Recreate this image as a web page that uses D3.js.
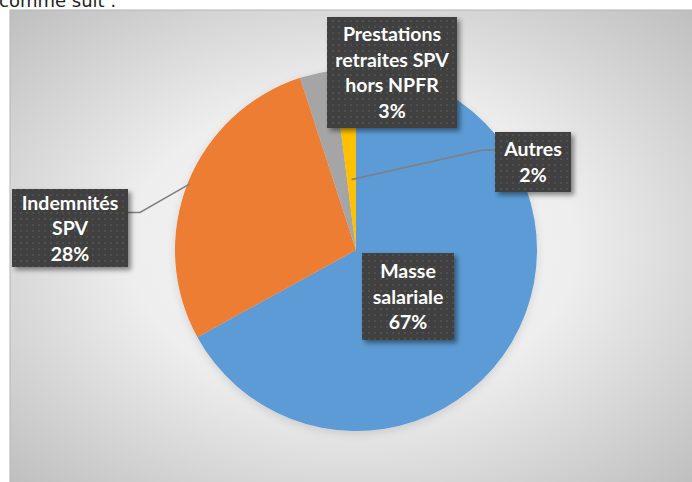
<!DOCTYPE html>
<html>
<head>
<meta charset="utf-8">
<script src="https://cdn.jsdelivr.net/npm/d3@7"></script>
<style>
  body { margin: 0; background: #fff; }
  svg { display: block; }
</style>
</head>
<body>
<svg id="chart" width="692" height="482"></svg>
<script>
// data
var categories = ["Masse salariale", "Indemnités SPV", "Prestations retraites SPV hors NPFR", "Autres"];
var values = [67, 28, 3, 2];
var labelLines = [
  ["Masse", "salariale", "67%"],
  ["Indemnités", "SPV", "28%"],
  ["Prestations", "retraites SPV", "hors NPFR", "3%"],
  ["Autres", "2%"]
];
var colors = ["#5B9BD5", "#ED7D31", "#A5A5A5", "#FFC000"];

// label box placement (layout only)
var boxes = [
  { x: 362, y: 253, w: 92, h: 87 },
  { x: 12, y: 189, w: 116, h: 78 },
  { x: 327, y: 17, w: 130, h: 111 },
  { x: 495, y: 132, w: 76, h: 60 }
];

var svg = d3.select("#chart");
var W = 692, H = 482;
var cx = 356, cy = 250, radius = 181;

var defs = svg.append("defs");

var grad = defs.append("radialGradient")
  .attr("id", "bg")
  .attr("cx", "50%").attr("cy", "50%").attr("r", "72%");
grad.append("stop").attr("offset", "0%").attr("stop-color", "#f6f6f6");
grad.append("stop").attr("offset", "45%").attr("stop-color", "#eeeeee");
grad.append("stop").attr("offset", "100%").attr("stop-color", "#bdbdbd");

var pat = defs.append("pattern")
  .attr("id", "dots")
  .attr("patternUnits", "userSpaceOnUse")
  .attr("width", 6).attr("height", 6);
pat.append("rect").attr("width", 6).attr("height", 6).attr("fill", "#3f3f3f");
pat.append("rect").attr("x", 2).attr("y", 2).attr("width", 2).attr("height", 2).attr("fill", "#505050");

var shadow = defs.append("filter").attr("id", "shadow")
  .attr("x", "-20%").attr("y", "-20%").attr("width", "150%").attr("height", "150%");
shadow.append("feDropShadow")
  .attr("dx", 3).attr("dy", 3).attr("stdDeviation", 2.5)
  .attr("flood-color", "#000").attr("flood-opacity", 0.45);

var pieShadow = defs.append("filter").attr("id", "pieShadow")
  .attr("x", "-20%").attr("y", "-20%").attr("width", "140%").attr("height", "140%");
pieShadow.append("feDropShadow")
  .attr("dx", 0).attr("dy", 3).attr("stdDeviation", 4)
  .attr("flood-color", "#000").attr("flood-opacity", 0.12);

// heading text, cut at the top as in the source page
svg.append("text")
  .attr("x", -1).attr("y", 7)
  .style("font-family", "'DejaVu Sans', sans-serif")
  .style("font-size", "18px")
  .style("fill", "#222")
  .text("comme suit :");

// chart area
svg.append("rect")
  .attr("x", 10).attr("y", 10)
  .attr("width", W - 10 + 2).attr("height", H - 10 + 2)
  .attr("fill", "url(#bg)")
  .attr("stroke", "#b5b5b5").attr("stroke-width", 1);

var pie = d3.pie().sort(null).value(function (d) { return d; });
var arcs = pie(values);
var arc = d3.arc().innerRadius(0).outerRadius(radius);

var g = svg.append("g").attr("transform", "translate(" + cx + "," + cy + ")");

g.append("g").attr("filter", "url(#pieShadow)")
  .selectAll("path")
  .data(arcs)
  .enter().append("path")
  .attr("d", arc)
  .attr("fill", function (d, i) { return colors[i]; });

// leader lines
function pointAt(d, r) {
  var a = (d.startAngle + d.endAngle) / 2;
  return [cx + r * Math.sin(a), cy - r * Math.cos(a)];
}
var leaders = [
  { i: 1, r: radius * 0.99, side: "right" },
  { i: 3, r: radius * 0.39, side: "left" }
];
leaders.forEach(function (l) {
  var b = boxes[l.i];
  var p = pointAt(arcs[l.i], l.r);
  var yb = b.y + b.h * 0.3;
  var pts;
  if (l.side === "right") {
    pts = [[b.x + b.w, yb], [b.x + b.w + 12, yb], p];
  } else {
    pts = [[b.x, yb], [b.x - 12, yb], p];
  }
  svg.append("path")
    .attr("d", d3.line()(pts))
    .attr("fill", "none")
    .attr("stroke", "#7f7f7f")
    .attr("stroke-width", 1.5);
});

// labels
var lineH = 25.5;
boxes.forEach(function (b, i) {
  var lg = svg.append("g");
  lg.append("rect")
    .attr("x", b.x).attr("y", b.y)
    .attr("width", b.w).attr("height", b.h)
    .attr("fill", "url(#dots)")
    .attr("filter", "url(#shadow)");
  var lines = labelLines[i];
  var top = b.y + b.h / 2 - (lines.length * lineH) / 2;
  lines.forEach(function (t, k) {
    lg.append("text")
      .attr("x", b.x + b.w / 2)
      .attr("y", top + lineH * k + lineH / 2)
      .attr("dy", "0.36em")
      .attr("text-anchor", "middle")
      .style("font-family", "Lato, 'Open Sans', sans-serif")
      .style("font-weight", "bold")
      .style("font-size", "19.5px")
      .style("fill", "#fff")
      .text(t);
  });
});
</script>
</body>
</html>
